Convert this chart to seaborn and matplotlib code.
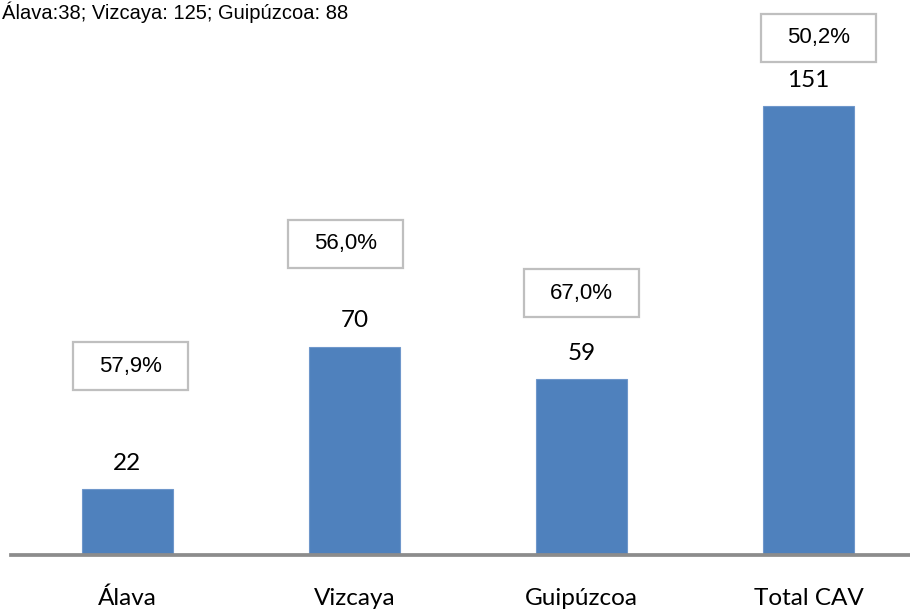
import matplotlib
matplotlib.use("Agg")
import matplotlib.pyplot as plt
import seaborn as sns
import pandas as pd
from matplotlib.patches import Rectangle

categories = ["Álava", "Vizcaya", "Guipúzcoa", "Total CAV"]
values = [22, 70, 59, 151]
pct_labels = ["57,9%", "56,0%", "67,0%", "50,2%"]
header = "Álava:38; Vizcaya: 125; Guipúzcoa: 88"

# annotation box placement (data units)
box_y = [63.4, 104.8, 88.0, 174.2]
box_dx = [0.015, -0.04, 0.0, 0.046]

sns.set_theme(style="white")
plt.rcParams['font.family'] = ['Lato', 'DejaVu Sans']

df = pd.DataFrame({"cat": categories, "val": values})

fig = plt.figure(figsize=(9.1, 6.1), dpi=100)
ppu = 227.0
xlo, xhi = -0.513, 3.5
ymax = 170
base_px = 554.5
ax = fig.add_axes([11 / 910, (610 - base_px) / 610, (xhi - xlo) * ppu / 910, ymax * 2.967 / 610])

sns.barplot(data=df, x="cat", y="val", color="#4F81BD", width=0.4, saturation=1,
            ax=ax, edgecolor="#6F97CB", linewidth=0.8)

ax.set_xlim(xlo, xhi)
ax.set_ylim(0, ymax)
ax.set_xlabel("")
ax.set_ylabel("")
ax.set_yticks([])
for s in ["top", "right", "left"]:
    ax.spines[s].set_visible(False)
ax.spines["bottom"].set_color("#8C8C8C")
ax.spines["bottom"].set_linewidth(2.7)
ax.tick_params(axis="x", length=0, pad=24, labelsize=17.5, labelcolor="#000000")

for i, v in enumerate(values):
    ax.text(i, v + 8.8, str(v), ha="center", va="center", fontsize=17.5, color="#000000",
            family=["Lato", "DejaVu Sans"])

bw, bh = 0.507, 16.2
for i, (p, y, dx) in enumerate(zip(pct_labels, box_y, box_dx)):
    cx = i + dx
    ax.add_patch(Rectangle((cx - bw / 2, y - bh / 2), bw, bh, facecolor="white",
                           edgecolor="#BFBFBF", linewidth=1.6, clip_on=False, zorder=5))
    ax.text(cx, y, p, ha="center", va="center", fontsize=16, color="#000000",
            family=["Liberation Sans", "DejaVu Sans"], zorder=6, clip_on=False)

fig.text(2 / 910, 1 - 19 / 610, header, ha="left", va="baseline", fontsize=14.5,
         family=["Liberation Sans", "DejaVu Sans"], color="#000000")

fig.savefig("out.png", dpi=100)
